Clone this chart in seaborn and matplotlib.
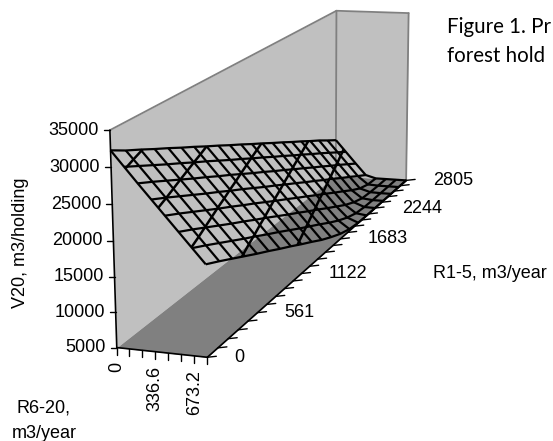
import numpy as np
import matplotlib
matplotlib.use('Agg')
import matplotlib.pyplot as plt
from matplotlib.lines import Line2D
from mpl_toolkits.mplot3d import proj3d
import seaborn as sns

# axis values
r620_ticks = [0, 112.2, 224.4, 336.6, 448.8, 561, 673.2, 785.4]
r15_ticks = [0, 112.2, 224.4, 336.6, 448.8, 561, 673.2, 785.4, 897.6, 1009.8, 1122, 1234.2, 1346.4,
             1458.6, 1570.8, 1683, 1795.2, 1907.4, 2019.6, 2131.8, 2244, 2356.2, 2468.4, 2580.6, 2692.8, 2805]
v20_ticks = [5000, 10000, 15000, 20000, 25000, 30000, 35000]
r620_labels = {0: '0', 336.6: '336.6', 673.2: '673.2'}
r15_labels = {0: '0', 561: '561', 1122: '1122', 1683: '1683', 2244: '2244', 2805: '2805'}
contour_levels = [10000, 15000, 20000, 25000, 30000]

# the mesh is coarser along R1-5 than the ticks
r15_grid = [0, 140.25, 280.5, 420.75, 561, 701.25, 841.5, 981.75, 1122, 1262.25, 1402.5, 1542.75, 1683,
            1823.25, 1963.5, 2103.75, 2244, 2384.25, 2524.5, 2664.75, 2805]

# V20, one list per R6-20 value, along R1-5
v20_r0 = [32300, 31150, 30150, 29100, 28100, 27050, 26050, 25000, 24000, 22950, 21950,
          20900, 19900, 18850, 17850, 16800, 15800, 14750, 13750, 12650, 11600]
v20_r1 = [30200, 29150, 28100, 27050, 26050, 25000, 24000, 22950, 21900, 20900, 19850,
          18850, 17800, 16800, 15750, 14750, 13700, 12700, 11650, 10600, 9550]
v20_r2 = [28100, 27100, 26050, 25000, 23950, 22950, 21900, 20900, 19850, 18800, 17800,
          16750, 15750, 14700, 13700, 12650, 11650, 10600, 9600, 8550, 7500]
v20_r3 = [26050, 25050, 24000, 22950, 21900, 20900, 19850, 18850, 17800, 16750, 15750,
          14700, 13700, 12650, 11650, 10600, 9600, 8550, 7550, 6500, 5500]
v20_r4 = [24000, 23000, 21950, 20900, 19850, 18850, 17800, 16800, 15750, 14700, 13700,
          12650, 11650, 10600, 9600, 8550, 7550, 6500, 5600, 5100, 5000]
v20_r5 = [21950, 20950, 19900, 18850, 17800, 16800, 15750, 14750, 13700, 12650, 11650,
          10600, 9600, 8550, 7550, 6550, 5750, 5200, 5050, 5000, 5000]
v20_r6 = [19900, 18900, 17850, 16800, 15750, 14750, 13700, 12700, 11650, 10600, 9600,
          8600, 7550, 6600, 5800, 5250, 5050, 5000, 5000, 5000, 5000]
v20_r7 = [17850, 16850, 15800, 14750, 13700, 12700, 11650, 10650, 9600, 8600, 7550,
          6650, 5850, 5300, 5050, 5000, 5000, 5000, 5000, 5000, 5000]

# screen positions of the box corners, for the camera
box_corners = [(0, 0, 0), (1, 0, 0), (0, 1, 0), (1, 1, 0), (0, 0, 1), (0, 1, 1), (1, 1, 1)]
box_pixels = [(117, 347), (207, 358), (336, 177), (406, 179), (110, 130), (336, 10), (409, 14)]

W, H = 553, 441
wall_col = '#c0c0c0'
floor_col = '#808080'
edge_col = '#808080'

sns.set_theme(style='white')
plt.rcParams['font.family'] = ['Liberation Sans', 'DejaVu Sans']
plt.rcParams['text.color'] = 'black'

X, Y = np.meshgrid(r620_ticks, r15_grid)
Z = np.array([v20_r0, v20_r1, v20_r2, v20_r3, v20_r4, v20_r5, v20_r6, v20_r7]).T
xmax, ymax = max(r620_ticks), max(r15_ticks)
zmin, zmax = min(v20_ticks), max(v20_ticks)


def camera():
    # fit a projective camera on the box corners
    A, b = [], []
    for (u, v, w), (px, py) in zip(box_corners, box_pixels):
        sy = H - py
        A.append([u, v, w, 1, 0, 0, 0, 0, -px * u, -px * v, -px * w])
        A.append([0, 0, 0, 0, u, v, w, 1, -sy * u, -sy * v, -sy * w])
        b += [px, sy]
    p = np.linalg.lstsq(np.array(A, float), np.array(b, float), rcond=None)[0]
    P = np.array([p[:4], p[4:8], [0, 0, 0, -1], [p[8], p[9], p[10], 1]])
    S = np.array([[1 / xmax, 0, 0, 0], [0, 1 / ymax, 0, 0],
                  [0, 0, 1 / (zmax - zmin), -zmin / (zmax - zmin)], [0, 0, 0, 1]])
    return P @ S


M = camera()

fig = plt.figure(figsize=(W / 100, H / 100), dpi=100)
# square axes, one data unit is one pixel
ax = fig.add_axes([0, -(W - H) / 2 / H, 1, W / H], projection='3d', computed_zorder=False)
ax.set_axis_off()
ax.get_proj = lambda: M


def screen(x, y, z):
    sx, sy, _ = proj3d.proj_transform(x, y, z, M)
    return float(sx), float(sy)


def edge(p0, p1, color, lw, zorder):
    a, b = screen(*p0), screen(*p1)
    ax.add_artist(Line2D([a[0], b[0]], [a[1], b[1]], color=color, lw=lw, zorder=zorder))


def tick(x, y, z, dx, dy):
    sx, sy = screen(x, y, z)
    ax.add_artist(Line2D([sx, sx + dx], [sy, sy + dy], color='black', lw=1.0, zorder=6))


# walls and floor
yy, zz = np.meshgrid([0, ymax], [zmin, zmax])
ax.plot_surface(np.zeros_like(yy), yy, zz, color=wall_col, shade=False, linewidth=0, zorder=1)
xx, zz = np.meshgrid([0, xmax], [zmin, zmax])
ax.plot_surface(xx, np.full_like(xx, ymax, dtype=float), zz, color=wall_col, shade=False, linewidth=0, zorder=1)
xx, yy = np.meshgrid([0, xmax], [0, ymax])
ax.plot_surface(xx, yy, np.full_like(xx, zmin, dtype=float), color=floor_col, shade=False, linewidth=0, zorder=2)

# wall edges
edge((0, 0, zmax), (0, ymax, zmax), edge_col, 1.3, 3)
edge((0, ymax, zmax), (xmax, ymax, zmax), edge_col, 1.3, 3)
edge((xmax, ymax, zmax), (xmax, ymax, zmin), edge_col, 1.3, 3)
edge((0, ymax, zmax), (0, ymax, zmin), edge_col, 1.3, 3)

# the surface, see-through
ax.plot_wireframe(X, Y, Z, rstride=1, cstride=1, color='black', linewidth=1.6, zorder=4)
ax.contour(X, Y, Z, levels=contour_levels, colors='black', linewidths=1.8, zorder=5)

# axis lines
edge((0, 0, zmin), (0, 0, zmax), 'black', 1.2, 6)
edge((0, 0, zmin), (xmax, 0, zmin), 'black', 1.2, 6)
edge((xmax, 0, zmin), (xmax, ymax, zmin), 'black', 1.2, 6)

for v in v20_ticks:
    tick(0, 0, v, -6, 0)
    ax.annotate(str(v), screen(0, 0, v), xytext=(-11, 0), textcoords='offset pixels',
                ha='right', va='center', fontsize=13, annotation_clip=False)
for v in r620_ticks:
    tick(v, 0, zmin, 0, -7)
    if v in r620_labels:
        ax.annotate(r620_labels[v], screen(v, 0, zmin), xytext=(0, -14), textcoords='offset pixels',
                    ha='center', va='top', rotation=90, fontsize=13, annotation_clip=False)
for v in r15_ticks:
    tick(xmax, v, zmin, 9, 1)
    if v in r15_labels:
        ax.annotate(r15_labels[v], screen(xmax, v, zmin), xytext=(27, 0), textcoords='offset pixels',
                    ha='left', va='center', fontsize=13, annotation_clip=False)

ax.viewLim.intervalx = (0, W)
ax.viewLim.intervaly = (-(W - H) / 2, H + (W - H) / 2)

# labels
fig.text(21 / W, 1 - 243 / H, 'V20, m3/holding', rotation=90, ha='center', va='center', fontsize=13)
fig.text(433 / W, 1 - 273 / H, 'R1-5, m3/year', ha='left', va='center', fontsize=13)
fig.text(44 / W, 1 - 408 / H, 'R6-20,', ha='center', va='center', fontsize=13)
fig.text(44 / W, 1 - 433 / H, 'm3/year', ha='center', va='center', fontsize=13)
fig.text(447 / W, 1 - 33 / H, 'Figure 1. Pr', ha='left', va='baseline', fontsize=14.8, family='Lato')
fig.text(447 / W, 1 - 62 / H, 'forest hold', ha='left', va='baseline', fontsize=14.8, family='Lato')

fig.savefig('out.png', dpi=100)
